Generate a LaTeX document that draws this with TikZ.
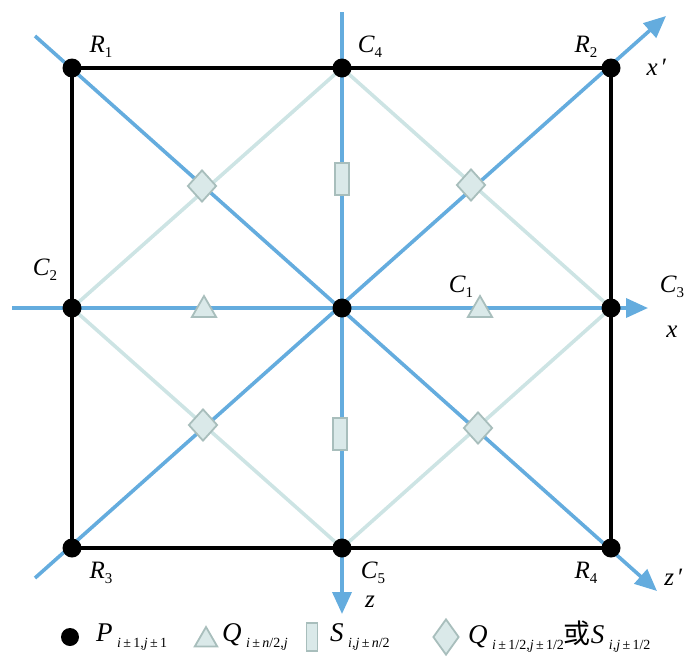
\documentclass[tikz,border=0pt]{standalone}
\usepackage{fontspec}
\setmainfont{Liberation Serif}
\newfontfamily\cjk{Noto Sans CJK SC}
\usetikzlibrary{arrows.meta,shapes.geometric}
\definecolor{axblue}{RGB}{100,172,222}
\definecolor{lightln}{RGB}{205,228,228}
\definecolor{mkfill}{RGB}{218,233,233}
\definecolor{mkdraw}{RGB}{168,190,188}
\newcommand\lbl[2]{\textit{#1}\raisebox{-0.45ex}{\fontsize{15}{16}\selectfont #2}}
\newcommand\sub[1]{\raisebox{-0.5ex}{\fontsize{14}{15}\selectfont #1}}
\begin{document}
\begin{tikzpicture}[x=1pt,y=-1pt,
  dot/.style={circle,fill=black,inner sep=0pt,minimum size=19pt},
  axis/.style={axblue,line width=3.6pt},
  axarrow/.style={axis,-{Triangle[length=22pt,width=19pt]}},
  light/.style={lightln,line width=3.6pt},
  frame/.style={black,line width=3.8pt},
  tri/.style={regular polygon,regular polygon sides=3,fill=mkfill,draw=mkdraw,line width=1.8pt,inner sep=0pt,minimum size=28pt},
  rect/.style={rectangle,fill=mkfill,draw=mkdraw,line width=1.8pt,inner sep=0pt,minimum width=14pt,minimum height=32pt},
  dmd/.style={diamond,fill=mkfill,draw=mkdraw,line width=1.8pt,inner sep=0pt,minimum width=29pt,minimum height=32pt},
  lab/.style={font=\fontsize{25}{28}\selectfont,inner sep=0pt},
  leg/.style={font=\fontsize{27}{30}\selectfont,inner sep=0pt,anchor=west}]
\useasboundingbox (0,0) rectangle (700,662);
% coordinates
\coordinate (R1) at (72,68);
\coordinate (R2) at (611,68);
\coordinate (R3) at (72,548);
\coordinate (R4) at (611,548);
\coordinate (C4) at (342,68);
\coordinate (C5) at (342,548);
\coordinate (C2) at (72,308);
\coordinate (C3) at (611,308);
\coordinate (O) at (342,308);
\coordinate (hs) at (12,308);
\coordinate (he) at (648,308);
\coordinate (vs) at (342,12);
\coordinate (ve) at (342,614);
\coordinate (d1s) at (35,36);
\coordinate (d1e) at (657,591);
\coordinate (d2s) at (35,578);
\coordinate (d2e) at (666,16);
% light lines
\draw[light] (C4) -- (C3) -- (C5) -- (C2) -- cycle;
% blue axes
\draw[axarrow] (hs) -- (he);
\draw[axarrow] (vs) -- (ve);
\draw[axarrow] (d1s) -- (d1e);
\draw[axarrow] (d2s) -- (d2e);
% frame
\draw[frame] (R1) -- (C4) -- (R2) -- (C3) -- (R4) -- (C5) -- (R3) -- (C2) -- cycle;
% dots
\foreach \p in {R1,R2,R3,R4,C2,C3,C4,C5,O}{\node[dot] (d\p) at (\p) {};}
% markers
\node[dmd] (q1) at (202,186) {};
\node[dmd] (q2) at (471,185) {};
\node[dmd] (q3) at (203,425) {};
\node[dmd] (q4) at (478,428) {};
\node[tri] (t1) at (204,310) {};
\node[tri] (t2) at (480,310) {};
\node[rect] (s1) at (342,179) {};
\node[rect] (s2) at (340,434) {};
% labels
\node[lab] (lR1) at (101,47) {\lbl{R}{1}};
\node[lab] (lC4) at (370,47) {\lbl{C}{4}};
\node[lab] (lR2) at (586,47) {\lbl{R}{2}};
\node[lab] (lxp) at (657,67) {\textit{x}\,′};
\node[lab] (lC2) at (45,270) {\lbl{C}{2}};
\node[lab] (lC1) at (461,287) {\lbl{C}{1}};
\node[lab] (lC3) at (672,287) {\lbl{C}{3}};
\node[lab] (lx) at (672,332) {\textit{x}};
\node[lab] (lR3) at (101,573) {\lbl{R}{3}};
\node[lab] (lC5) at (373,573) {\lbl{C}{5}};
\node[lab] (lz) at (370,602) {\textit{z}};
\node[lab] (lR4) at (586,573) {\lbl{R}{4}};
\node[lab] (lzp) at (674,577) {\textit{z}\,′};
% legend
\node[dot,minimum size=18pt] (g1) at (70,637) {};
\node[leg] (g1t) at (96,637) {\textit{P}\,\sub{\textit{i}\,±\,1,\textit{j}\,±\,1}};
\node[tri,minimum size=26pt] (g2) at (206,640) {};
\node[leg] (g2t) at (222,637) {\textit{Q}\,\sub{\textit{i}\,±\,\textit{n}/2,\textit{j}}};
\node[rect,minimum width=11pt,minimum height=28pt] (g3) at (312,637) {};
\node[leg] (g3t) at (330,637) {\textit{S}\,\sub{\textit{i},\textit{j}\,±\,\textit{n}/2}};
\node[dmd,minimum width=26pt,minimum height=36pt] (g4) at (446,637) {};
\node[leg] (g4t) at (468,637) {\textit{Q}\,\sub{\textit{i}\,±\,1/2,\textit{j}\,±\,1/2}{\cjk 或}\textit{S}\,\sub{\textit{i},\textit{j}\,±\,1/2}};
\end{tikzpicture}
\end{document}
